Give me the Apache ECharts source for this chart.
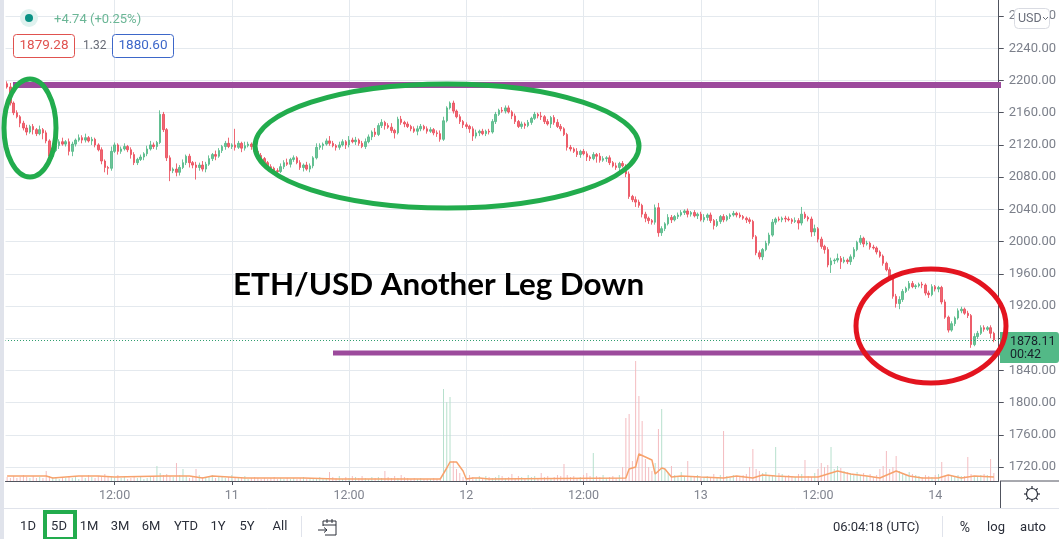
<!DOCTYPE html>
<html><head><meta charset="utf-8">
<style>html,body{margin:0;padding:0;background:#fff}#c{width:1059px;height:539px}</style>
<script src="https://cdn.jsdelivr.net/npm/echarts@6/dist/echarts.min.js"></script>
</head><body><div id="c"></div>
<script>
const timeTicks = {33:'12:00',69:'11',105:'12:00',141:'12',177:'12:00',213:'13',249:'12:00',285:'14'};
const priceTicks = [1720,1760,1800,1840,1880,1920,1960,2000,2040,2080,2120,2160,2200,2240,2280];
const closes = [
2192,2172,2160,2155,2147,2141,2136,2143,2139,2134,
2139,2135,2125,2106,2113,2119,2124,2121,2124,2112,
2121,2126,2129,2126,2129,2125,2127,2120,2114,2100,
2092,2091,2112,2120,2112,2115,2118,2114,2108,2098,
2102,2105,2109,2115,2120,2118,2123,2158,2139,2104,
2088,2090,2086,2092,2098,2106,2098,2095,2092,2095,
2090,2096,2103,2108,2106,2113,2118,2122,2118,2120,
2117,2122,2116,2119,2121,2118,2112,2107,2103,2098,
2093,2091,2088,2087,2093,2098,2096,2102,2104,2098,
2092,2095,2090,2094,2104,2117,2119,2121,2125,2122,
2119,2117,2120,2124,2120,2126,2124,2126,2122,2118,
2124,2130,2136,2133,2144,2148,2144,2142,2138,2135,
2152,2148,2146,2143,2140,2137,2140,2143,2140,2137,
2139,2135,2134,2127,2150,2166,2172,2162,2155,2149,
2145,2143,2140,2131,2135,2137,2134,2137,2136,2149,
2158,2163,2162,2166,2161,2156,2149,2143,2146,2144,
2148,2153,2158,2156,2155,2149,2146,2154,2148,2143,
2140,2133,2117,2115,2112,2108,2112,2109,2105,2103,
2108,2106,2101,2103,2104,2098,2094,2092,2097,2094,
2084,2056,2052,2049,2045,2034,2029,2026,2024,2042,
2011,2016,2022,2030,2027,2031,2033,2036,2038,2034,
2036,2032,2034,2027,2030,2033,2026,2020,2025,2031,
2027,2031,2033,2035,2033,2031,2029,2027,2025,2006,
1986,1981,1990,1998,2008,2024,2028,2027,2029,2028,
2027,2025,2026,2023,2034,2030,2028,2012,2016,2003,
1994,1990,1971,1976,1977,1979,1975,1977,1975,1981,
1990,1999,2004,1997,1998,1993,1992,1987,1982,1973,
1965,1956,1932,1923,1928,1938,1942,1948,1944,1945,
1947,1946,1936,1934,1944,1941,1943,1925,1906,1890,
1898,1905,1914,1916,1911,1908,1872,1882,1886,1893,
1891,1893,1886,1878];
const wickUp = [
3,5,2,3,2,3,4,2,3,2, 5,2,3,2,4,2,3,5,2,4, 3,2,4,3,5,2,3,2,2,3, 2,2,6,3,2,3,4,2,3,3,
2,3,2,4,5,3,2,5,3,2, 3,2,7,3,4,2,3,2,4,3, 5,3,4,2,5,3,2,3,7,2, 20,3,2,5,3,2,4,2,3,2,
2,3,2,3,4,3,5,2,3,2, 3,2,4,3,2,5,3,2,3,6, 3,2,4,3,2,5,3,4,2,3, 4,3,2,5,3,4,2,3,5,2,
3,4,2,3,2,3,4,3,2,3, 3,2,3,4,5,2,2,3,2,3, 2,3,2,3,4,2,3,2,3,3, 3,2,4,3,3,2,3,2,3,2,
3,2,3,2,5,2,3,2,3,4, 3,2,2,3,2,4,2,3,3,2, 3,2,4,3,2,3,2,4,2,3, 2,3,2,4,3,2,3,2,2,4,
6,3,2,4,3,2,3,3,2,3, 2,3,2,3,4,2,3,2,3,2, 3,2,2,3,2,3,2,2,3,2, 2,3,2,3,3,4,2,3,2,3,
3,2,4,3,9,3,2,3,5,2, 3,2,3,4,2,6,3,4,2,3, 3,2,4,2,3,2,3,2,2,2, 2,3,2,3,4,3,2,3,3,2,
2,3,2,3,3,2,2,2,3,2, 3,2,3,3,2,3,2,4,3,3, 3,2,3,2];
const wickDown = [
2,3,3,2,5,3,4,2,6,3, 2,8,3,5,3,2,4,2,3,5, 6,3,2,4,3,2,5,3,2,4, 6,8,3,2,4,3,2,3,5,3,
3,2,4,3,2,3,4,2,3,4, 13,3,5,4,2,3,6,4,15,4, 3,4,2,3,5,2,3,4,2,3, 4,2,5,3,2,4,2,3,2,3,
3,2,4,3,2,3,2,4,3,2, 3,5,2,4,3,2,3,5,2,3, 2,4,3,2,5,3,2,4,3,2, 3,2,4,3,2,3,5,2,3,7,
2,3,4,2,3,2,5,3,2,3, 2,3,4,3,2,2,2,3,2,3, 4,3,5,6,3,4,2,3,3,2, 3,2,2,3,2,4,3,2,3,4,
2,3,2,3,4,3,2,5,3,2, 3,2,4,3,2,3,4,2,5,3, 2,8,3,2,4,3,2,3,5,2, 4,3,3,6,3,4,5,4,3,3,
5,4,3,2,4,2,3,2,3,4, 3,2,4,2,3,4,3,5,2,3, 3,2,3,2,3,2,2,4,3,3, 3,3,4,2,3,2,3,2,3,4,
2,3,2,8,3,2,3,6,5,4, 3,5,3,10,4,3,9,2,3,4, 3,2,3,4,2,3,2,3,2,3, 2,4,3,5,7,3,2,3,2,3,
2,4,3,4,2,3,4,3,2,3, 2,3,2,3,2,3,4,2,3,2, 3,2,6,3];
const volumes = [
4,3,5,3,4,6,4,3,5,3, 4,3,10,5,4,3,2,4,3,5, 3,4,2,5,3,6,4,3,5,4, 7,5,4,3,6,3,4,2,3,5,
3,4,2,3,4,5,15,8,6,7, 5,4,18,6,12,5,3,4,12,6, 4,3,5,6,3,4,5,3,4,6, 3,4,3,5,2,3,4,3,2,3,
2,3,4,2,3,2,3,2,3,2, 3,4,2,3,3,2,4,3,3,9, 4,3,5,2,4,3,5,4,3,5, 3,2,4,3,4,3,10,4,3,5,
3,6,4,3,2,3,2,3,2,2, 2,3,2,3,92,79,84,20,12,8, 4,3,6,4,3,5,3,5,4,3, 4,6,5,3,4,7,3,5,4,3,
6,4,5,3,8,4,5,3,4,6, 5,17,6,4,5,3,4,6,8,5, 28,5,4,6,3,4,5,3,6,14, 63,67,20,120,85,60,22,14,10,18,
52,72,12,8,15,6,5,9,4,20, 5,4,6,3,4,5,3,7,4,6, 50,5,3,6,4,5,6,7,14,32, 12,10,8,9,6,5,34,8,7,5,
6,5,4,7,7,21,5,4,8,12, 18,14,16,34,12,15,13,10,9,8, 7,9,6,8,5,7,4,6,12,15, 30,12,14,25,10,8,6,9,7,6,
5,4,6,5,4,6,7,19,5,6, 5,4,6,5,5,24,7,4,5,6, 7,6,22,8];
const maIndex = [0,12,14,22,28,33,48,56,60,63,73,91,101,133,135,136,138,140,141,143,145,148,190,191,193,194,196,198,199,201,202,204,207,213,220,224,229,232,236,242,249,252,255,259,264,268,273,277,281,286,289,293,297,303];
const maValues= [5, 5, 3, 5, 5, 4, 5, 5, 3, 5, 3, 3, 2, 2,13, 19, 19, 10,  2,  3,  3,  2,  3, 12, 14, 27, 24, 21,  7, 13, 12,  4,  5,  4,  3,  5,  3,  6,  5,  4,  4,  7, 10,  7,  5,  3, 10,  5,  3,  3,  6,  3,  5,  4];
const lastPrice = 1878;
const totalBands = 305;

const UP='#53b987', DOWN='#eb4d5c', VUP='#b7e0cd', VDOWN='#f4bcc0';
const FONT='Roboto, sans-serif';
const categories = Array.from({length:totalBands},(_,i)=>String(i));
const opens = closes.map((c,i)=> i===0 ? 2196 : closes[i-1]);
const candleData = closes.map((c,i)=>[opens[i],c,Math.min(opens[i],c)-wickDown[i],Math.max(opens[i],c)+wickUp[i]]);
const volumeData = volumes.map((v,i)=>({value:v,itemStyle:{color:closes[i]>=opens[i]?VUP:VDOWN}}));
const maData = categories.map(()=>null);
maIndex.forEach((idx,k)=>{maData[idx]=maValues[k];});

const txt=(x,y,t,size,fill,extra)=>({type:'text',z:50,style:Object.assign({x,y,text:t,font:size+'px '+FONT,fill,textVerticalAlign:'middle'},extra||{})});
const ln=(x1,y1,x2,y2,stroke,w,z)=>({type:'line',z:z||40,shape:{x1,y1,x2,y2},style:{stroke,lineWidth:w||1}});
const ring=(cx,cy,rx,ry,stroke,w)=>({type:'ellipse',z:70,shape:{cx,cy,rx,ry},style:{fill:null,stroke,lineWidth:w}});
const toolbar=[['1D',28],['5D',59],['1M',89],['3M',120],['6M',151],['YTD',186],['1Y',218],['5Y',247],['All',280]];
const GREEN='#22ac4d', PURPLE='#9c4a9c', RED='#e3141f', INK='#2a2e39';

const gearTeeth=[0,45,90,135,180,225,270,315].map(a=>{
  const r=a*Math.PI/180,c=Math.cos(r),s=Math.sin(r);
  return ln(1032+5.5*c,494+5.5*s,1032+8*c,494+8*s,INK,1.2);
});

const graphicEls=[
  {type:'rect',z:30,shape:{x:0,y:0,width:4,height:539},style:{fill:'#e0e3eb'}},
  ln(4,508.5,1059,508.5,'#e0e3eb',1),
  ln(1000.5,481,1000.5,508,'#50535e',1),
  ln(1000,481,1059,481,'#50535e',1),
  {type:'circle',z:50,shape:{cx:29,cy:18,r:9},style:{fill:'#dff2ef'}},
  {type:'circle',z:51,shape:{cx:29,cy:18,r:4},style:{fill:'#0a9284'}},
  txt(54,20,'+4.74 (+0.25%)',13,'#6bb696'),
  {type:'rect',z:50,shape:{x:13.5,y:34.5,width:61,height:23,r:3},style:{fill:'#fff',stroke:'#e0524f',lineWidth:1}},
  {type:'text',z:52,style:{x:44,y:46,text:'1879.28',font:'13.5px '+FONT,fill:'#e0524f',textAlign:'center',textVerticalAlign:'middle'}},
  txt(83,46,'1.32',12,'#666a75'),
  {type:'rect',z:50,shape:{x:112.5,y:34.5,width:61,height:23,r:3},style:{fill:'#fff',stroke:'#3d67c9',lineWidth:1}},
  {type:'text',z:52,style:{x:143,y:46,text:'1880.60',font:'13.5px '+FONT,fill:'#3d67c9',textAlign:'center',textVerticalAlign:'middle'}},
  {type:'rect',z:50,shape:{x:1014.5,y:8.5,width:35,height:20,r:4},style:{fill:'#fff',stroke:'#d9dbe2',lineWidth:1}},
  {type:'text',z:52,style:{x:1018,y:18.5,text:'USD',font:'12.5px '+FONT,fill:'#6a6e7a',textVerticalAlign:'middle'}},
  {type:'polyline',z:52,shape:{points:[[1043,17],[1045.5,19.5],[1048,17]]},style:{fill:null,stroke:'#6a6e7a',lineWidth:1}},
  ln(13,85,1001,85,PURPLE,6,60),
  ln(333,353,1001,353,PURPLE,5,60),
  {type:'rect',z:65,shape:{x:1000,y:332,width:59,height:31,r:[0,3,3,0]},style:{fill:'#53b987'}},
  {type:'text',z:66,style:{x:1010,y:342,text:'1878.11',font:'12.5px '+FONT,fill:'#17202a',textVerticalAlign:'middle'}},
  {type:'text',z:66,style:{x:1010,y:355,text:'00:42',font:'12.5px '+FONT,fill:'#17202a',textVerticalAlign:'middle'}},
  ring(30,128,26,49,GREEN,5),
  ring(447,146,192,62,GREEN,5),
  ring(931,326,75,57,RED,5),
  {type:'text',z:72,style:{x:233,y:285,text:'ETH/USD Another Leg Down',font:'bold 31.4px Lato, sans-serif',fill:'#000',textVerticalAlign:'middle'}},
  ...toolbar.map(([t,x])=>txt(x,527,t,13,INK,{textAlign:'center'})),
  {type:'rect',z:55,shape:{x:45,y:512,width:30,height:27},style:{fill:null,stroke:GREEN,lineWidth:4}},
  ln(301.5,516,301.5,537,'#e0e3eb',1),
  {type:'polyline',z:50,shape:{points:[[323,526],[323,521],[336,521],[336,535],[325,535]]},style:{fill:null,stroke:INK,lineWidth:1}},
  ln(323,525,336,525,INK,1),
  ln(327,519,327,523,INK,1), ln(332,519,332,523,INK,1),
  ln(318,530,327,530,INK,1),
  {type:'polyline',z:50,shape:{points:[[324,527.5],[327,530],[324,532.5]]},style:{fill:null,stroke:INK,lineWidth:1}},
  txt(833,528,'06:04:18 (UTC)',13,INK),
  ln(942.5,516,942.5,537,'#e0e3eb',1),
  txt(965,528,'%',14,INK,{textAlign:'center'}),
  txt(996,528,'log',13,INK,{textAlign:'center'}),
  txt(1033,528,'auto',13,INK,{textAlign:'center'}),
  {type:'circle',z:50,shape:{cx:1032,cy:494,r:5.5},style:{fill:'#fff',stroke:INK,lineWidth:1.2}},
  ...gearTeeth
];

const chart=echarts.init(document.getElementById('c'),null,{renderer:'canvas'});
chart.setOption({
  animation:false,
  backgroundColor:'#fff',
  grid:{left:5.5,right:59,top:0,bottom:58,containLabel:false},
  xAxis:{type:'category',data:categories,boundaryGap:true,
    axisLine:{show:true,lineStyle:{color:'#50535e',width:1}},
    axisTick:{show:true,alignWithLabel:true,length:4,lineStyle:{color:'#50535e'},interval:i=>i in timeTicks},
    axisLabel:{show:true,margin:8,color:'#80848f',fontSize:12.5,fontFamily:FONT,hideOverlap:false,
      interval:i=>i in timeTicks,formatter:(v,i)=>timeTicks[i]||''},
    splitLine:{show:true,alignWithLabel:true,interval:i=>i in timeTicks,lineStyle:{color:'#e4e9ee',width:1}}},
  yAxis:[
    {type:'value',position:'right',min:1702.6,max:2300,scale:true,
      axisLine:{show:true,onZero:false,lineStyle:{color:'#50535e',width:1}},
      axisTick:{show:true,length:5,lineStyle:{color:'#50535e'},customValues:priceTicks},
      axisLabel:{show:true,margin:10,color:'#7c808b',fontSize:13,fontFamily:FONT,customValues:priceTicks,
        formatter:v=>v.toFixed(2)},
      splitLine:{show:true,lineStyle:{color:'#e4e9ee',width:1}}},
    {type:'value',position:'left',min:0,max:481,show:false}
  ],
  series:[
    {type:'bar',name:'Volume',yAxisIndex:1,data:volumeData,barWidth:1,z:2,silent:true},
    {type:'line',name:'Volume MA',yAxisIndex:1,data:maData,connectNulls:true,showSymbol:false,symbol:'none',
      lineStyle:{color:'#f7a26c',width:1.5},z:3,silent:true},
    {type:'candlestick',name:'ETH/USD',data:candleData,barWidth:2,z:4,silent:true,
      itemStyle:{color:UP,color0:DOWN,borderColor:UP,borderColor0:DOWN,borderWidth:1,opacity:0.85},
      markLine:{silent:true,symbol:'none',label:{show:false},
        lineStyle:{color:'#2f9e6e',type:[1,2],dashOffset:0.5,width:1,opacity:1},data:[{yAxis:lastPrice}]}}
  ],
  graphic:{elements:graphicEls}
});
</script></body></html>
